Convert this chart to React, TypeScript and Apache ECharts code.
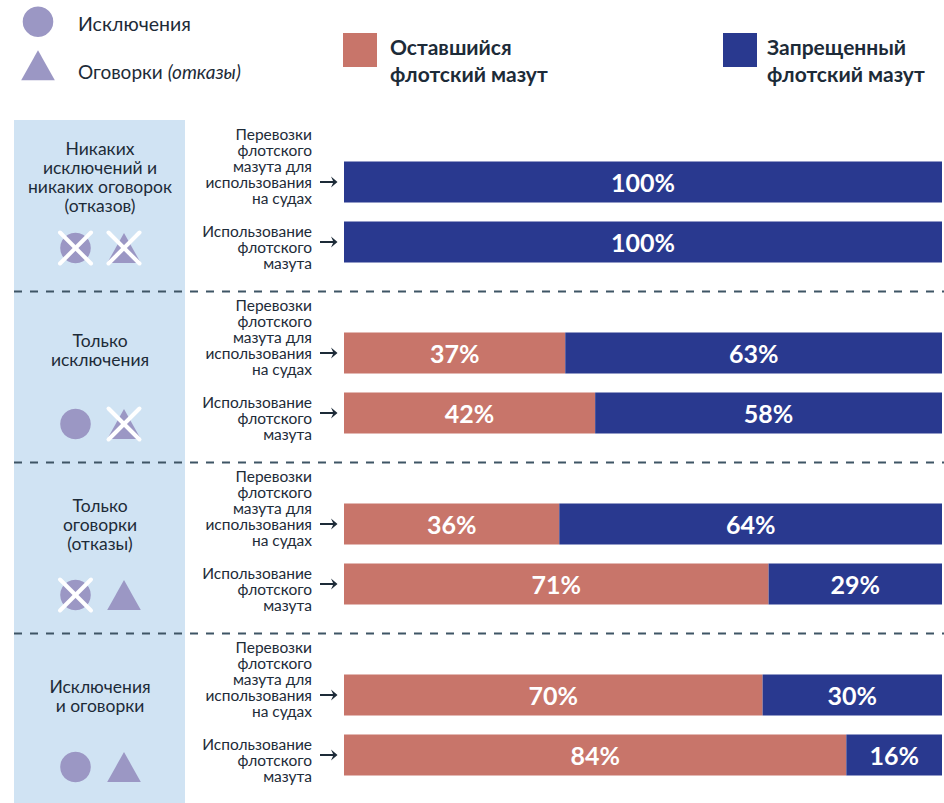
import React, { useEffect, useRef } from "react";
import * as echarts from "echarts";

// ---------- data ----------
const groupTitles = [
  "Никаких\nисключений и\nникаких оговорок\n(отказов)",
  "Только\nисключения",
  "Только\nоговорки\n(отказы)",
  "Исключения\nи оговорки",
];
// which marker is crossed out in each group: [exceptions, reservations]
const groupCrossed = [
  [true, true],
  [false, true],
  [true, false],
  [false, false],
];
const rowLabels = [
  "Перевозки\nфлотского\nмазута для\nиспользования\nна судах",
  "Использование\nфлотского\nмазута",
];
const remainingShare = [
  [0, 0],
  [37, 42],
  [36, 71],
  [70, 84],
];
const bannedShare = [
  [100, 100],
  [63, 58],
  [64, 29],
  [30, 16],
];
const seriesNames = ["Оставшийся\nфлотский мазут", "Запрещенный\nфлотский мазут"];
const markerNames = ["Исключения", "Оговорки"];

// ---------- styles ----------
const W = 944;
const H = 803;
const SALMON = "#c8756a";
const BLUE = "#29398f";
const PURPLE = "#9b97c4";
const TEXT = "#1d2b38";
const PANEL = "#d0e3f3";
const DASH = "#3e5565";
const FONT = "Lato";
const BAR_LEFT = 344;
const GROUP_TOP = 152;
const GROUP_STEP = 171;
const GROUP_H = 120;
const PANEL_CX = 100;
const ICON_DY = [96, 101, 101, 102];
const TITLE_DY = [25, 27, 30, 31];

function marker(kind: "circle" | "triangle", cx: number, cy: number, crossed: boolean) {
  const els: any[] = [];
  if (kind === "circle") {
    els.push({ type: "circle", shape: { cx, cy, r: 15.3 }, style: { fill: PURPLE } });
  } else {
    els.push({
      type: "polygon",
      shape: { points: [[cx, cy - 15], [cx - 16.8, cy + 15], [cx + 16.8, cy + 15]] },
      style: { fill: PURPLE },
    });
  }
  if (crossed) {
    const d = 15.5;
    const st = { stroke: "#ffffff", lineWidth: 4, lineCap: "round" };
    els.push({ type: "line", shape: { x1: cx - d, y1: cy - d, x2: cx + d, y2: cy + d }, style: st });
    els.push({ type: "line", shape: { x1: cx - d, y1: cy + d, x2: cx + d, y2: cy - d }, style: st });
  }
  return els;
}

export default function App() {
  const ref = useRef<HTMLDivElement>(null);
  useEffect(() => {
    if (!ref.current) return;
    const chart = echarts.init(ref.current, null, { renderer: "svg" });

    const grids: any[] = [];
    const xAxes: any[] = [];
    const yAxes: any[] = [];
    const series: any[] = [];
    const graphics: any[] = [];

    // left panel
    graphics.push({
      type: "rect",
      shape: { x: 14, y: 120, width: 171, height: H - 120 },
      style: { fill: PANEL },
      z: 0,
    });

    groupTitles.forEach((title, g) => {
      const top = GROUP_TOP + g * GROUP_STEP;
      grids.push({ left: BAR_LEFT, right: 2, top, height: GROUP_H });
      xAxes.push({ type: "value", gridIndex: g, min: 0, max: 100, show: false });
      yAxes.push({
        type: "category",
        gridIndex: g,
        inverse: true,
        data: rowLabels,
        show: false,
      });
      const labelStyle = {
        show: true,
        position: "inside",
        color: "#ffffff",
        fontFamily: FONT,
        fontWeight: "bold",
        fontSize: 25,
        formatter: (p: any) => (p.value ? p.value + "%" : ""),
      };
      series.push({
        type: "bar",
        name: seriesNames[0],
        xAxisIndex: g,
        yAxisIndex: g,
        stack: "s" + g,
        barWidth: 41,
        data: remainingShare[g],
        itemStyle: { color: SALMON },
        label: labelStyle,
      });
      series.push({
        type: "bar",
        name: seriesNames[1],
        xAxisIndex: g,
        yAxisIndex: g,
        stack: "s" + g,
        barWidth: 41,
        data: bannedShare[g],
        itemStyle: { color: BLUE },
        label: labelStyle,
      });
      series.push({
        type: "custom",
        xAxisIndex: g,
        yAxisIndex: g,
        clip: false,
        silent: true,
        encode: { x: 0, y: 1 },
        data: rowLabels.map((_, i) => [0, i]),
        renderItem: (params: any, api: any) => {
          const i = params.dataIndex;
          const p = api.coord([0, i]);
          const x0 = p[0];
          const y = p[1];
          const text = rowLabels[i];
          const n = text.split("\n").length;
          const dy = n >= 5 ? -16.5 : 4.5;
          return {
            type: "group",
            children: [
              {
                type: "text",
                x: x0 - 32,
                y: y + dy,
                style: {
                  text,
                  fill: TEXT,
                  fontFamily: FONT,
                  fontSize: 15.5,
                  lineHeight: 16,
                  align: "right",
                  textAlign: "right",
                  verticalAlign: "middle",
                  textVerticalAlign: "middle",
                },
              },
              {
                type: "line",
                shape: { x1: x0 - 24, y1: y, x2: x0 - 10, y2: y },
                style: { stroke: TEXT, lineWidth: 2 },
              },
              {
                type: "polygon",
                shape: { points: [[x0 - 6.5, y], [x0 - 13, y - 5.5], [x0 - 10.5, y], [x0 - 13, y + 5.5]] },
                style: { fill: TEXT },
              },
            ],
          };
        },
      });

      // panel title
      graphics.push({
        type: "text",
        x: PANEL_CX,
        y: top + TITLE_DY[g],
        style: {
          text: title,
          fill: TEXT,
          fontFamily: FONT,
          fontSize: 17.5,
          lineHeight: 19,
          textAlign: "center",
          textVerticalAlign: "middle",
        },
        z: 2,
      });
      // markers
      const iy = top + ICON_DY[g];
      graphics.push(...marker("circle", 75.5, iy, groupCrossed[g][0]).map((e) => ({ ...e, z: 2 })));
      graphics.push(...marker("triangle", 124, iy, groupCrossed[g][1]).map((e) => ({ ...e, z: 2 })));

      // dashed separator
      if (g < groupTitles.length - 1) {
        const yy = top + 139.5;
        graphics.push({
          type: "line",
          shape: { x1: 14, y1: yy, x2: W, y2: yy },
          style: { stroke: DASH, lineWidth: 2, lineDash: [8, 8] },
          z: 3,
        });
      }
    });

    // top-left legend of markers
    graphics.push(...marker("circle", 38, 21.7, false));
    graphics.push(...marker("triangle", 38, 65.3, false));
    graphics.push({
      type: "text",
      x: 78,
      y: 23.5,
      style: {
        text: markerNames[0],
        fill: TEXT,
        fontFamily: FONT,
        fontSize: 19.5,
        textAlign: "left",
        textVerticalAlign: "middle",
      },
    });
    graphics.push({
      type: "text",
      x: 78,
      y: 71,
      style: {
        text: "{n|" + markerNames[1] + " }{i|(отказы)}",
        fill: TEXT,
        fontFamily: FONT,
        fontSize: 19,
        textAlign: "left",
        textVerticalAlign: "middle",
        rich: {
          n: { fontFamily: FONT, fontSize: 19, fill: TEXT, color: TEXT },
          i: { fontFamily: FONT, fontSize: 19, fontStyle: "italic", fill: TEXT, color: TEXT },
        },
      },
    });

    // series legend (top right)
    const legendItems = [
      { x: 343, tx: 390, color: SALMON, name: seriesNames[0] },
      { x: 723, tx: 767, color: BLUE, name: seriesNames[1] },
    ];
    legendItems.forEach((it) => {
      graphics.push({
        type: "rect",
        shape: { x: it.x, y: 33, width: 34, height: 34 },
        style: { fill: it.color },
      });
      graphics.push({
        type: "text",
        x: it.tx,
        y: 59.5,
        style: {
          text: it.name,
          fill: TEXT,
          fontFamily: FONT,
          fontWeight: "bold",
          fontSize: 21,
          lineHeight: 27,
          textAlign: "left",
          textVerticalAlign: "middle",
        },
      });
    });

    chart.setOption({
      animation: false,
      textStyle: { fontFamily: FONT },
      grid: grids,
      xAxis: xAxes,
      yAxis: yAxes,
      series,
      graphic: { elements: graphics },
    });

    return () => chart.dispose();
  }, []);

  return (
    <div
      ref={ref}
      style={{ position: "fixed", left: 0, top: 0, width: W, height: H, background: "#ffffff" }}
    />
  );
}
